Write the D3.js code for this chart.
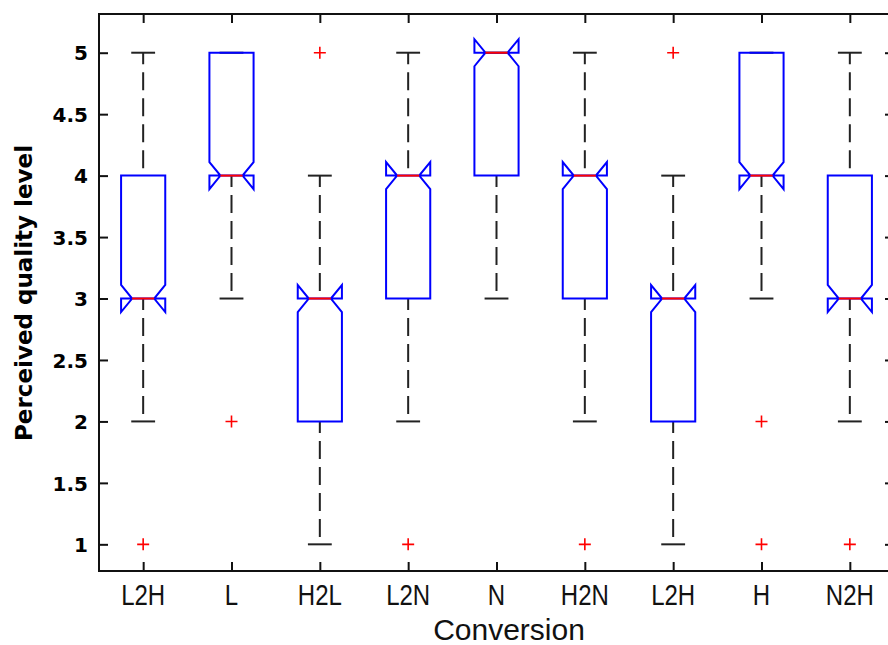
<!DOCTYPE html>
<html>
<head>
<meta charset="utf-8">
<script src="https://cdn.jsdelivr.net/npm/d3@7"></script>
<style>
  body { margin: 0; background: #fff; }
  svg { display: block; }
</style>
</head>
<body>
<div class="canva"></div>
<script>
// categories along the x axis
const categories = ['L2H', 'L', 'H2L', 'L2N', 'N', 'H2N', 'L2H', 'H', 'N2H'];

// box statistics, one entry per category
const lowWhisker  = [2, 3, 1, 2, 3, 2, 1, 3, 2];
const q1          = [3, 4, 2, 3, 4, 3, 2, 4, 3];
const medians     = [3, 4, 3, 4, 5, 4, 3, 4, 3];
const q3          = [4, 5, 3, 4, 5, 4, 3, 5, 4];
const highWhisker = [5, 5, 4, 5, 5, 5, 4, 5, 5];
const notchHalf   = [0.11, 0.11, 0.11, 0.11, 0.11, 0.11, 0.11, 0.11, 0.11];
const outliers    = [[1], [2], [5], [1], [], [1], [5], [2, 1], [1]];

const yTicks = [1, 1.5, 2, 2.5, 3, 3.5, 4, 4.5, 5];

const W = 888, H = 645;
const svg = d3.select('.canva').append('svg')
  .attr('width', W)
  .attr('height', H);

svg.append('rect').attr('width', W).attr('height', H).attr('fill', '#fff');

const pLeft = 99, pRight = 894, pTop = 14, pBottom = 571;

const x = d3.scaleLinear().domain([0.5, 9.5]).range([pLeft, pRight]);
const y = d3.scaleLinear().domain([0.783, 5.315]).range([pBottom, pTop]);

const boxHalf = 0.25;   // in x units
const capHalf = 0.135;

const data = categories.map((c, i) => ({
  name: c, pos: i + 1,
  lo: lowWhisker[i], q1: q1[i], med: medians[i], q3: q3[i], hi: highWhisker[i],
  notch: notchHalf[i], out: outliers[i]
}));

const g = svg.append('g');

// whiskers (dashed), drawn from the upper end downward
data.forEach(d => {
  const segs = [];
  if (d.hi > d.q3) segs.push([d.hi, d.q3]);
  if (d.q1 > d.lo) segs.push([d.q1, d.lo]);
  segs.forEach(s => {
    g.append('line')
      .attr('x1', x(d.pos)).attr('x2', x(d.pos))
      .attr('y1', y(s[0])).attr('y2', y(s[1]))
      .attr('stroke', '#222')
      .attr('stroke-width', 2)
      .attr('stroke-dasharray', '18,8')
      .attr('stroke-dashoffset', 6.5);
  });
  // caps
  [d.hi, d.lo].forEach(v => {
    g.append('line')
      .attr('x1', x(d.pos - capHalf)).attr('x2', x(d.pos + capHalf))
      .attr('y1', y(v)).attr('y2', y(v))
      .attr('stroke', '#222')
      .attr('stroke-width', 2);
  });
});

// notched boxes
data.forEach(d => {
  const L = d.pos - boxHalf, R = d.pos + boxHalf;
  const iL = d.pos - boxHalf / 2, iR = d.pos + boxHalf / 2;
  const nHi = d.med + d.notch, nLo = d.med - d.notch;
  const pts = [
    [L, d.q3], [L, nHi], [iL, d.med], [L, nLo], [L, d.q1],
    [R, d.q1], [R, nLo], [iR, d.med], [R, nHi], [R, d.q3]
  ];
  g.append('path')
    .attr('d', d3.line().x(p => x(p[0])).y(p => y(p[1]))(pts) + 'Z')
    .attr('fill', 'none')
    .attr('stroke', '#0000ff')
    .attr('stroke-width', 2)
    .attr('stroke-linejoin', 'miter');
  g.append('line')
    .attr('x1', x(iL)).attr('x2', x(iR))
    .attr('y1', y(d.med)).attr('y2', y(d.med))
    .attr('stroke', '#ff0000')
    .attr('stroke-width', 2);
});

// outliers
data.forEach(d => {
  d.out.forEach(v => {
    const cx = x(d.pos), cy = y(v);
    g.append('path')
      .attr('d', `M${cx - 6},${cy}H${cx + 6}M${cx},${cy - 6}V${cy + 6}`)
      .attr('stroke', '#ff0000')
      .attr('stroke-width', 1.6)
      .attr('fill', 'none');
  });
});

// axes with inward ticks
const tickLen = 9;
const xAxisB = svg.append('g').attr('transform', `translate(0,${pBottom})`)
  .call(d3.axisBottom(x).tickValues(d3.range(1, 10)).tickSizeInner(-tickLen).tickSizeOuter(0).tickFormat(''));
const xAxisT = svg.append('g').attr('transform', `translate(0,${pTop})`)
  .call(d3.axisTop(x).tickValues(d3.range(1, 10)).tickSizeInner(-tickLen).tickSizeOuter(0).tickFormat(''));
const yAxisL = svg.append('g').attr('transform', `translate(${pLeft},0)`)
  .call(d3.axisLeft(y).tickValues(yTicks).tickSizeInner(-tickLen).tickSizeOuter(0).tickFormat(d3.format('')));
const yAxisR = svg.append('g').attr('transform', `translate(${pRight},0)`)
  .call(d3.axisRight(y).tickValues(yTicks).tickSizeInner(-tickLen).tickSizeOuter(0).tickFormat(''));

[xAxisB, xAxisT, yAxisL, yAxisR].forEach(a => {
  a.select('.domain').remove();
  a.selectAll('.tick line').attr('stroke', '#111').attr('stroke-width', 2);
});

yAxisL.selectAll('.tick text')
  .attr('x', -11)
  .attr('dy', '0.36em')
  .attr('fill', '#000')
  .style('font-family', '"DejaVu Sans", sans-serif')
  .style('font-weight', 'bold')
  .style('font-size', '20px');

// frame
svg.append('rect')
  .attr('x', pLeft).attr('y', pTop)
  .attr('width', pRight - pLeft).attr('height', pBottom - pTop)
  .attr('fill', 'none')
  .attr('stroke', '#111')
  .attr('stroke-width', 2);

// category labels
svg.append('g').selectAll('text')
  .data(data)
  .enter().append('text')
  .attr('transform', d => `translate(${x(d.pos)},605) scale(0.8,1)`)
  .attr('text-anchor', 'middle')
  .style('font-family', '"Liberation Sans Narrow", "Arial Narrow", sans-serif')
  .style('font-size', '30px')
  .attr('fill', '#111')
  .text(d => d.name);

// axis titles
svg.append('text')
  .attr('x', 509).attr('y', 640)
  .attr('text-anchor', 'middle')
  .style('font-family', '"Liberation Sans", Arial, sans-serif')
  .style('font-size', '30px')
  .attr('fill', '#111')
  .text('Conversion');

svg.append('text')
  .attr('transform', 'translate(32,293) rotate(-90)')
  .attr('text-anchor', 'middle')
  .style('font-family', '"DejaVu Sans", sans-serif')
  .style('font-weight', 'bold')
  .style('font-size', '23px')
  .attr('fill', '#000')
  .text('Perceived quality level');
</script>
</body>
</html>
